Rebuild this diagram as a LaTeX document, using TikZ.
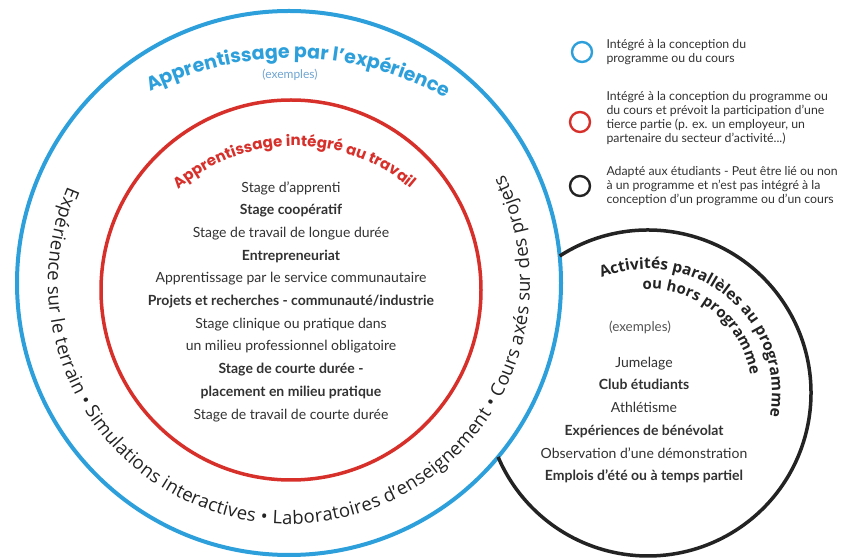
\documentclass[tikz,border=0pt]{standalone}
\usepackage{fontspec}
\setmainfont{Lato}
\newfontfamily\headfont{Poppins}
\newfontfamily\osfont{Open Sans}
\usetikzlibrary{decorations.text}
\definecolor{cblue}{RGB}{45,160,220}
\definecolor{cred}{RGB}{215,48,43}
\definecolor{cblack}{RGB}{35,35,35}
\definecolor{ctext}{RGB}{50,50,50}
\definecolor{cexblue}{RGB}{110,165,210}
\definecolor{cgray}{RGB}{85,85,85}
\begin{document}
\begin{tikzpicture}[x=1pt,y=1pt,
  ring/.style={circle, draw, inner sep=0pt},
  body/.style={align=center, text=ctext, font=\fontsize{14}{22.7}\selectfont},
  legtext/.style={anchor=west, align=left, text=ctext, font=\fontsize{12.3}{14}\selectfont},
  legring/.style={circle, draw, line width=2.4pt, minimum size=20pt, inner sep=0pt}
]
\useasboundingbox (0,0) rectangle (846,557);
\fill[white] (0,0) rectangle (846,557);

% main circles
\node[ring, draw=cblue, line width=4pt, minimum size=544pt] (outer) at (289,274) {};
\node[ring, draw=cred, line width=3.5pt, minimum size=380pt] (inner) at (291,267) {};
\coordinate (bc) at (648,164);
\draw[cblack, line width=3.5pt] (bc) ++(122.8:163) arc[start angle=122.8, end angle=-156.9, radius=163];

% curved headings
\path[decorate, decoration={text along path, text align={fit to path},
  text={|\headfont\bfseries\fontsize{19}{19}\selectfont\color{cblue}|Apprentissage par l’expérience}}]
  (292,187) ++(117:312) arc[start angle=117, end angle=60.5, radius=312];
\node[text=cexblue, font=\fontsize{12}{12}\selectfont] (exb) at (290,482) {(exemples)};

\path[decorate, decoration={text along path, text align={fit to path},
  text={|\headfont\bfseries\fontsize{15}{15}\selectfont\color{cred}|Apprentissage intégré au travail}}]
  (295,233) ++(131:178) arc[start angle=131, end angle=49.5, radius=178];

\path[decorate, decoration={text along path, text align={fit to path},
  text={|\osfont\fontsize{18.5}{18.5}\selectfont\color{cblack}|Expérience sur le terrain • Simulations interactives • Laboratoires d’enseignement • Cours axés sur des projets}}]
  (289,274) ++(156.5:241) arc[start angle=156.5, end angle=386.8, radius=241];

\path[decorate, decoration={text along path, text align={fit to path},
  text={|\osfont\bfseries\fontsize{15.5}{15.5}\selectfont\color{cblack}|Activités parallèles au programme}}]
  (bc) ++(112:124) arc[start angle=112, end angle=-9, radius=124];
\path[decorate, decoration={text along path, text align={fit to path},
  text={|\osfont\bfseries\fontsize{15}{15}\selectfont\color{cblack}|ou hors programme}}]
  (bc) ++(93:104) arc[start angle=93, end angle=10, radius=104];

% inner list
\node[body] (wil) at (291,255.5) {Stage d’apprenti\\
\textbf{Stage coopératif}\\
Stage de travail de longue durée\\
\textbf{Entrepreneuriat}\\
Apprentissage par le service communautaire\\
\textbf{Projets et recherches - communauté/industrie}\\
Stage clinique ou pratique dans\\
un milieu professionnel obligatoire\\
\textbf{Stage de courte durée -}\\
\textbf{placement en milieu pratique}\\
Stage de travail de courte durée};

% black circle list
\node[text=cgray, font=\fontsize{13.5}{13.5}\selectfont] (exk) at (640,230) {(exemples)};
\node[body] (act) at (644,137) {Jumelage\\
\textbf{Club étudiants}\\
Athlétisme\\
\textbf{Expériences de bénévolat}\\
Observation d’une démonstration\\
\textbf{Emplois d’été ou à temps partiel}};

% legend
\node[legring, draw=cblue] (lb) at (582,505) {};
\node[legring, draw=cred] (lr) at (580,435) {};
\node[legring, draw=cblack] (lk) at (580,371) {};
\node[legtext] (tb) at (603,504.5) {Intégré à la conception du\\programme ou du cours};
\node[legtext] (tr) at (603,439) {Intégré à la conception du programme ou\\du cours et prévoit la participation d’une\\tierce partie  (p. ex. un employeur, un\\partenaire du secteur d’activité...)};
\node[legtext] (tk) at (603,371) {Adapté aux étudiants - Peut être lié ou non\\à un programme et n’est pas intégré à la\\conception d’un programme ou d’un cours};
\end{tikzpicture}
\end{document}
